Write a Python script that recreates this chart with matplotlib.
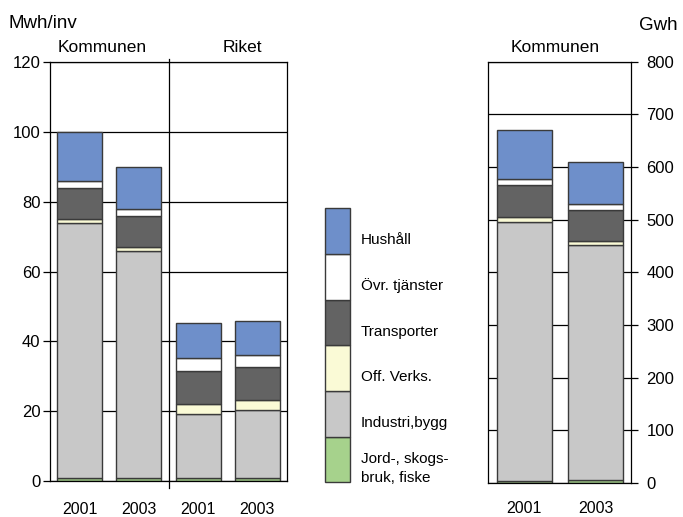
import numpy as np
import matplotlib
matplotlib.use("Agg")
import matplotlib.pyplot as plt

plt.rcParams['font.family'] = ['Liberation Sans', 'DejaVu Sans']

# Data
sektorer = ['Jord-, skogs-\nbruk, fiske', 'Industri,bygg', 'Off. Verks.',
            'Transporter', 'Övr. tjänster', 'Hushåll']
farger = ['#a6d28c', '#c8c8c8', '#fafad6', '#636363', '#ffffff', '#6e8fca']

ar_vanster = ['2001', '2003', '2001', '2003']   # Kommunen, Kommunen, Riket, Riket
# Mwh/inv, one list per sector (Kommunen 2001, Kommunen 2003, Riket 2001, Riket 2003)
mwh_jord = [1.0, 1.0, 0.8, 0.8]
mwh_industri = [73.0, 65.0, 18.5, 19.6]
mwh_off = [1.0, 1.0, 2.7, 2.7]
mwh_transport = [9.0, 9.0, 9.4, 9.6]
mwh_ovr = [2.0, 2.0, 3.8, 3.5]
mwh_hushall = [14.0, 12.0, 10.1, 9.5]

ar_hoger = ['2001', '2003']
# Gwh, Kommunen 2001 and 2003
gwh_jord = [4, 6]
gwh_industri = [492, 445]
gwh_off = [9, 8]
gwh_transport = [61, 59]
gwh_ovr = [12, 11]
gwh_hushall = [92, 80]

W, H = 683, 517
fig = plt.figure(figsize=(W / 100, H / 100), dpi=100)


def stapla(ax, serier, bredd):
    x = np.arange(len(serier[0]))
    botten = np.zeros(len(x))
    for varden, f in zip(serier, farger):
        ax.bar(x, varden, bredd, bottom=botten, color=f, edgecolor='#3a3a3a',
               linewidth=1.0, zorder=2)
        botten += np.array(varden)
    return x


# left panel: Mwh/inv
ax1 = fig.add_axes([50 / W, (H - 481) / H, 237 / W, (481 - 62) / H])
x1 = stapla(ax1, [mwh_jord, mwh_industri, mwh_off, mwh_transport, mwh_ovr, mwh_hushall], 0.76)
ax1.set_xlim(-0.5, 3.5)
ax1.set_ylim(0, 120)
ax1.set_yticks(range(0, 121, 20))
ax1.set_xticks(x1)
ax1.set_xticklabels(ar_vanster)
ax1.yaxis.grid(True, color='black', linewidth=0.9)
ax1.set_axisbelow(True)
ax1.tick_params(axis='y', length=5, width=0.9, pad=2, labelsize=12)
ax1.tick_params(axis='x', length=0, pad=15, labelsize=11.5)
for s in ax1.spines.values():
    s.set_linewidth(0.9)
ax1.plot([1.5, 1.5], [-2, 120.8], color='black', linewidth=0.9, clip_on=False, zorder=3)

# right panel: Gwh
ax2 = fig.add_axes([488.3 / W, (H - 483) / H, 143 / W, (483 - 61.7) / H])
x2 = stapla(ax2, [gwh_jord, gwh_industri, gwh_off, gwh_transport, gwh_ovr, gwh_hushall], 0.77)
ax2.set_xlim(-0.5, 1.5)
ax2.set_ylim(0, 800)
ax2.set_yticks(range(0, 801, 100))
ax2.set_xticks(x2)
ax2.set_xticklabels(ar_hoger)
ax2.yaxis.tick_right()
ax2.yaxis.grid(True, color='black', linewidth=0.9)
ax2.set_axisbelow(True)
ax2.tick_params(axis='y', length=5, width=0.9, pad=6, labelsize=12)
ax2.tick_params(axis='x', length=0, pad=13, labelsize=11.5)
for s in ax2.spines.values():
    s.set_linewidth(0.9)

# legend column
ax3 = fig.add_axes([325 / W, (H - 482.3) / H, 25 / W, (482.3 - 208.3) / H])
for i, f in enumerate(farger):
    ax3.bar(0, 1, 1, bottom=i, color=f, edgecolor='#3a3a3a', linewidth=1.0, clip_on=False)
    ax3.text(0.94, i + 0.3, sektorer[i], fontsize=11,
             va='center', ha='left', linespacing=1.5)
ax3.set_xlim(-0.5, 0.5)
ax3.set_ylim(0, 6)
ax3.axis('off')

# headings
fig.text(8 / W, 1 - 23 / H, 'Mwh/inv', fontsize=13.5, va='center', ha='left')
fig.text(101.7 / W, 1 - 48 / H, 'Kommunen', fontsize=12.5, va='center', ha='center')
fig.text(242 / W, 1 - 48 / H, 'Riket', fontsize=12.5, va='center', ha='center')
fig.text(554.7 / W, 1 - 48 / H, 'Kommunen', fontsize=12.5, va='center', ha='center')
fig.text(639 / W, 1 - 25 / H, 'Gwh', fontsize=13.5, va='center', ha='left')

fig.savefig('out.png', dpi=100)
